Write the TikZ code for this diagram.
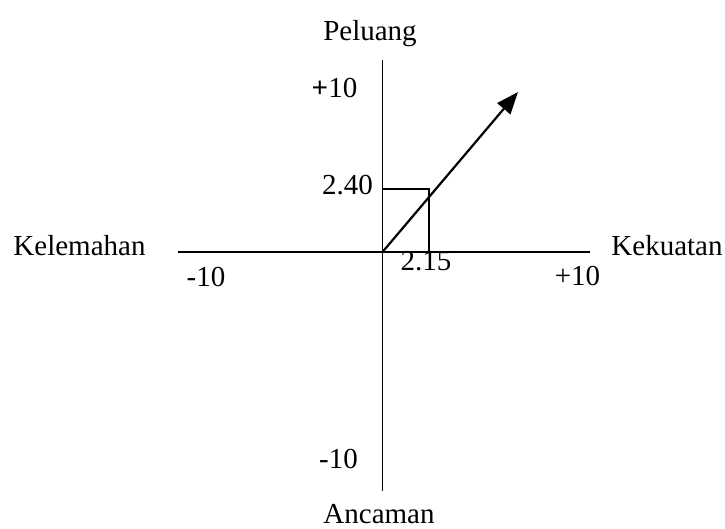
\documentclass[tikz,border=0pt]{standalone}
\usepackage{fontspec}
\setmainfont{Liberation Serif}
\usetikzlibrary{arrows.meta}

\begin{document}
\begin{tikzpicture}[
  x=1pt,y=-1pt,
  font=\fontsize{29}{35}\selectfont,
  axis/.style={line width=1.6pt},
  lbl/.style={inner sep=0pt,anchor=base},
  vec/.style={-{Triangle[length=22pt,width=17pt]},line width=2.2pt},
  box/.style={line width=1.6pt}
]
\useasboundingbox (0,0) rectangle (725,529);
% axes
\coordinate (o) at (382.5,252);
\coordinate (top) at (382.5,60);
\coordinate (bot) at (382.5,491);
\coordinate (lft) at (178,252);
\coordinate (rgt) at (590,252);
\draw[axis] (lft) -- (rgt);
\draw[axis] (top) -- (bot);

% position box and vector
\coordinate (pos) at (429,189);
\draw[box] (o |- pos) -- (pos) -- (pos |- o);
\coordinate (tip) at (518,92);
\draw[vec] (o) -- (tip);

% axis labels
\node[lbl] (peluang) at (370,41) {Peluang};
\node[lbl] (ancaman) at (379,523) {Ancaman};
\node[lbl] (lemah) at (79.5,256) {Kelemahan};
\node[lbl] (kuat) at (667,256) {Kekuatan};

% scale values
\node[lbl] (ytop) at (334.5,98) {\textbf{+}10};
\node[lbl] (ybot) at (338.5,468) {-10};
\node[lbl] (xlft) at (206,287) {-10};
\node[lbl] (xrgt) at (577.5,285) {+10};
\node[lbl] (yval) at (347.5,195) {2.40};
\node[lbl] (xval) at (426,271) {2.15};
\end{tikzpicture}
\end{document}
